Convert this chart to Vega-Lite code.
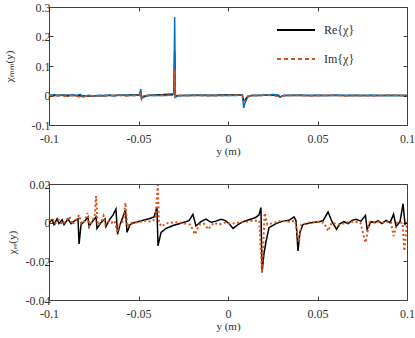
{
  "$schema": "https://vega.github.io/schema/vega-lite/v6.json",
  "padding": {"left": 2, "top": 0, "right": 5, "bottom": 0},
  "bounds": "flush",
  "spacing": 59,
  "config": {
    "font": "Liberation Serif",
    "view": {"stroke": "#404040", "strokeWidth": 1},
    "style": {
      "guide-label": {"font": "Liberation Serif", "fontSize": 12, "fill": "#303030"},
      "guide-title": {"font": "Liberation Serif", "fontSize": 11, "fill": "#303030", "fontWeight": "normal"}
    },
    "axis": {
      "grid": false, "domain": false, "tickSize": -4, "tickColor": "#404040",
      "labelFont": "Liberation Serif", "labelFontSize": 12, "labelColor": "#303030", "labelFlush": false,
      "titleFont": "Liberation Serif", "titleFontSize": 11, "titleFontWeight": "normal", "titleColor": "#303030",
      "labelExpr": "datum.value < 0 ? '-' + format(-datum.value, '~g') : format(datum.value, '~g')"
    },
    "axisX": {"labelPadding": 12, "titlePadding": 1},
    "axisY": {"labelPadding": 3},
    "legend": {
      "labelFont": "Liberation Serif", "labelFontSize": 12, "labelColor": "#303030"
    }
  },
  "datasets": {
    "topRe": [
      {"x": -0.1, "v": 0}, {"x": -0.09, "v": 0.001}, {"x": -0.08, "v": -0.002}, {"x": -0.0495, "v": 0.002},
      {"x": -0.0487, "v": 0.015}, {"x": -0.0483, "v": -0.008}, {"x": -0.045, "v": 0}, {"x": -0.0302, "v": 0.005},
      {"x": -0.0298, "v": 0.15}, {"x": -0.0294, "v": -0.004}, {"x": -0.028, "v": 0}, {"x": 0.008, "v": 0.002},
      {"x": 0.0088, "v": -0.02}, {"x": 0.0095, "v": -0.015}, {"x": 0.011, "v": -0.004}, {"x": 0.013, "v": 0},
      {"x": 0.028, "v": 0.001}, {"x": 0.029, "v": -0.005}, {"x": 0.031, "v": 0}, {"x": 0.1, "v": 0}
    ],
    "topBlue": [
      {"x": -0.1, "v": 0}, {"x": -0.097, "v": 0.003}, {"x": -0.095, "v": -0.002}, {"x": -0.092, "v": 0.002},
      {"x": -0.0895, "v": -0.003}, {"x": -0.087, "v": 0.003}, {"x": -0.085, "v": 0}, {"x": -0.0825, "v": 0.004},
      {"x": -0.081, "v": -0.005}, {"x": -0.078, "v": 0.001}, {"x": -0.075, "v": -0.002}, {"x": -0.072, "v": 0.001},
      {"x": -0.069, "v": 0}, {"x": -0.066, "v": 0.002}, {"x": -0.064, "v": -0.002}, {"x": -0.061, "v": 0.002},
      {"x": -0.058, "v": 0}, {"x": -0.055, "v": 0.001}, {"x": -0.052, "v": 0}, {"x": -0.0495, "v": 0.003},
      {"x": -0.0487, "v": 0.022}, {"x": -0.0483, "v": -0.012}, {"x": -0.0475, "v": -0.002}, {"x": -0.045, "v": 0},
      {"x": -0.04, "v": 0.001}, {"x": -0.035, "v": 0}, {"x": -0.031, "v": 0.002}, {"x": -0.0302, "v": 0.008},
      {"x": -0.0298, "v": 0.266}, {"x": -0.0294, "v": -0.006}, {"x": -0.0285, "v": -0.002}, {"x": -0.025, "v": 0},
      {"x": -0.02, "v": 0.001}, {"x": -0.015, "v": 0}, {"x": -0.01, "v": -0.001}, {"x": -0.005, "v": 0},
      {"x": 0, "v": 0.001}, {"x": 0.005, "v": 0}, {"x": 0.008, "v": 0.003}, {"x": 0.0088, "v": -0.042},
      {"x": 0.0095, "v": -0.025}, {"x": 0.011, "v": -0.005}, {"x": 0.013, "v": 0}, {"x": 0.018, "v": 0.001},
      {"x": 0.022, "v": 0.002}, {"x": 0.025, "v": 0.003}, {"x": 0.028, "v": 0.002}, {"x": 0.029, "v": -0.006},
      {"x": 0.031, "v": 0}, {"x": 0.035, "v": 0.001}, {"x": 0.04, "v": 0.002}, {"x": 0.045, "v": 0},
      {"x": 0.05, "v": 0.001}, {"x": 0.055, "v": 0}, {"x": 0.06, "v": 0.002}, {"x": 0.065, "v": 0},
      {"x": 0.07, "v": 0.001}, {"x": 0.075, "v": 0}, {"x": 0.08, "v": 0.001}, {"x": 0.085, "v": 0},
      {"x": 0.09, "v": 0.001}, {"x": 0.095, "v": 0}, {"x": 0.1, "v": 0}
    ],
    "topIm": [
      {"x": -0.1, "v": 0.001}, {"x": -0.097, "v": -0.002}, {"x": -0.094, "v": 0.001}, {"x": -0.091, "v": -0.003},
      {"x": -0.088, "v": 0.001}, {"x": -0.085, "v": -0.002}, {"x": -0.0815, "v": -0.006}, {"x": -0.078, "v": 0},
      {"x": -0.074, "v": -0.002}, {"x": -0.07, "v": 0.001}, {"x": -0.066, "v": -0.001}, {"x": -0.062, "v": 0.001},
      {"x": -0.058, "v": -0.002}, {"x": -0.054, "v": 0}, {"x": -0.0495, "v": 0}, {"x": -0.0487, "v": 0.008},
      {"x": -0.0483, "v": -0.01}, {"x": -0.047, "v": 0}, {"x": -0.04, "v": 0}, {"x": -0.031, "v": 0.002},
      {"x": -0.03, "v": 0.01}, {"x": -0.0298, "v": 0.089}, {"x": -0.0294, "v": -0.004}, {"x": -0.028, "v": 0},
      {"x": -0.02, "v": 0}, {"x": -0.01, "v": -0.001}, {"x": 0, "v": 0}, {"x": 0.008, "v": 0.002},
      {"x": 0.0088, "v": -0.022}, {"x": 0.0095, "v": -0.015}, {"x": 0.011, "v": -0.002}, {"x": 0.015, "v": 0},
      {"x": 0.02, "v": 0.001}, {"x": 0.025, "v": 0}, {"x": 0.029, "v": -0.004}, {"x": 0.032, "v": 0},
      {"x": 0.04, "v": 0.001}, {"x": 0.045, "v": -0.002}, {"x": 0.05, "v": 0}, {"x": 0.06, "v": 0.001},
      {"x": 0.065, "v": -0.002}, {"x": 0.07, "v": 0}, {"x": 0.08, "v": -0.001}, {"x": 0.09, "v": 0.001},
      {"x": 0.1, "v": 0}
    ],
    "botRe": [
      {"x": -0.1, "v": 0}, {"x": -0.0983, "v": 0.0015}, {"x": -0.0972, "v": -0.001}, {"x": -0.0955, "v": 0.002},
      {"x": -0.0944, "v": -0.0005}, {"x": -0.0927, "v": 0.0015}, {"x": -0.0916, "v": -0.001}, {"x": -0.0894, "v": 0.002},
      {"x": -0.0877, "v": -0.0005}, {"x": -0.0855, "v": 0.001}, {"x": -0.0838, "v": 0.002}, {"x": -0.0832, "v": -0.011},
      {"x": -0.0821, "v": -0.001}, {"x": -0.0799, "v": 0.001}, {"x": -0.0782, "v": 0.003}, {"x": -0.0777, "v": -0.002},
      {"x": -0.0754, "v": 0.001}, {"x": -0.0737, "v": 0.003}, {"x": -0.0732, "v": -0.003}, {"x": -0.071, "v": 0},
      {"x": -0.0687, "v": 0.002}, {"x": -0.0682, "v": -0.002}, {"x": -0.0659, "v": 0.002}, {"x": -0.0642, "v": 0.004},
      {"x": -0.0626, "v": 0.007}, {"x": -0.0617, "v": -0.006}, {"x": -0.0603, "v": -0.001}, {"x": -0.0587, "v": 0.003},
      {"x": -0.0573, "v": 0.0065}, {"x": -0.0564, "v": -0.005}, {"x": -0.0547, "v": -0.001}, {"x": -0.0525, "v": 0},
      {"x": -0.0503, "v": 0.0005}, {"x": -0.0475, "v": 0.0012}, {"x": -0.0441, "v": 0.002}, {"x": -0.0413, "v": 0.003},
      {"x": -0.0397, "v": 0.008}, {"x": -0.0391, "v": -0.012}, {"x": -0.0374, "v": -0.005}, {"x": -0.0346, "v": -0.003},
      {"x": -0.0307, "v": -0.0015}, {"x": -0.0263, "v": -0.0003}, {"x": -0.0218, "v": 0.001}, {"x": -0.0196, "v": 0.0043},
      {"x": -0.0179, "v": -0.0017}, {"x": -0.0151, "v": 0.0005}, {"x": -0.0123, "v": 0.0018}, {"x": -0.0095, "v": 0.0002},
      {"x": -0.0067, "v": 0.0008}, {"x": -0.0039, "v": 0.0018}, {"x": -0.0017, "v": 0.0012}, {"x": 0.0006, "v": -0.0005},
      {"x": 0.0028, "v": -0.003}, {"x": 0.0056, "v": -0.001}, {"x": 0.0084, "v": 0.0005}, {"x": 0.0117, "v": 0.0015},
      {"x": 0.0151, "v": 0.0025}, {"x": 0.0173, "v": 0.004}, {"x": 0.0184, "v": 0.0078}, {"x": 0.019, "v": -0.0258},
      {"x": 0.0201, "v": -0.016}, {"x": 0.0212, "v": -0.01}, {"x": 0.0229, "v": -0.0026}, {"x": 0.0268, "v": -0.0005},
      {"x": 0.0307, "v": 0.0008}, {"x": 0.0341, "v": 0.0012}, {"x": 0.0369, "v": 0.003}, {"x": 0.038, "v": 0.001},
      {"x": 0.0391, "v": -0.0146}, {"x": 0.0402, "v": -0.005}, {"x": 0.0419, "v": -0.001}, {"x": 0.0464, "v": 0},
      {"x": 0.0508, "v": 0.0005}, {"x": 0.0531, "v": 0.001}, {"x": 0.0559, "v": 0.0055}, {"x": 0.0581, "v": 0.0005},
      {"x": 0.0606, "v": -0.0034}, {"x": 0.0626, "v": -0.0005}, {"x": 0.0648, "v": 0.0005}, {"x": 0.0671, "v": -0.0005},
      {"x": 0.0693, "v": 0.0012}, {"x": 0.0715, "v": 0.0018}, {"x": 0.0743, "v": 0.0008}, {"x": 0.0768, "v": 0.0038},
      {"x": 0.0777, "v": -0.0034}, {"x": 0.0799, "v": 0.0005}, {"x": 0.0821, "v": 0}, {"x": 0.0838, "v": 0.001},
      {"x": 0.086, "v": -0.0005}, {"x": 0.0883, "v": 0.0012}, {"x": 0.0905, "v": 0}, {"x": 0.0925, "v": 0.0043},
      {"x": 0.0939, "v": -0.002}, {"x": 0.0961, "v": 0.0005}, {"x": 0.0978, "v": 0.0098}, {"x": 0.0989, "v": -0.0008},
      {"x": 0.1, "v": 0}
    ],
    "botIm": [
      {"x": -0.1, "v": 0.001}, {"x": -0.098, "v": 0.002}, {"x": -0.0965, "v": -0.0005}, {"x": -0.0945, "v": 0.0015},
      {"x": -0.0925, "v": -0.001}, {"x": -0.0905, "v": 0.001}, {"x": -0.0885, "v": 0.003}, {"x": -0.087, "v": -0.001},
      {"x": -0.085, "v": 0.001}, {"x": -0.0832, "v": 0.004}, {"x": -0.082, "v": -0.0005}, {"x": -0.08, "v": 0.001},
      {"x": -0.0785, "v": 0.005}, {"x": -0.0775, "v": -0.002}, {"x": -0.076, "v": 0.001}, {"x": -0.0745, "v": 0.003},
      {"x": -0.0737, "v": 0.0138}, {"x": -0.0728, "v": -0.001}, {"x": -0.071, "v": 0}, {"x": -0.0695, "v": 0.0035},
      {"x": -0.0685, "v": -0.001}, {"x": -0.0665, "v": 0.001}, {"x": -0.065, "v": 0}, {"x": -0.0635, "v": 0.001},
      {"x": -0.0617, "v": -0.005}, {"x": -0.0605, "v": -0.001}, {"x": -0.0585, "v": 0.001}, {"x": -0.0573, "v": 0.0103},
      {"x": -0.0562, "v": -0.002}, {"x": -0.0545, "v": 0}, {"x": -0.052, "v": 0}, {"x": -0.049, "v": 0.0005},
      {"x": -0.046, "v": 0.001}, {"x": -0.043, "v": 0.0005}, {"x": -0.0405, "v": 0.002}, {"x": -0.0392, "v": 0.0195},
      {"x": -0.0386, "v": 0}, {"x": -0.037, "v": -0.002}, {"x": -0.035, "v": -0.0005}, {"x": -0.032, "v": 0},
      {"x": -0.028, "v": 0.0003}, {"x": -0.024, "v": -0.0005}, {"x": -0.021, "v": -0.001}, {"x": -0.0185, "v": -0.006},
      {"x": -0.016, "v": -0.001}, {"x": -0.0135, "v": -0.0005}, {"x": -0.011, "v": -0.0034}, {"x": -0.008, "v": 0},
      {"x": -0.005, "v": -0.001}, {"x": -0.002, "v": 0}, {"x": 0.002, "v": -0.0005}, {"x": 0.006, "v": 0},
      {"x": 0.01, "v": 0.0005}, {"x": 0.014, "v": 0.001}, {"x": 0.0175, "v": 0.001}, {"x": 0.019, "v": -0.0258},
      {"x": 0.0205, "v": 0.005}, {"x": 0.022, "v": -0.001}, {"x": 0.026, "v": 0}, {"x": 0.03, "v": 0.001},
      {"x": 0.034, "v": 0.0005}, {"x": 0.0375, "v": 0.001}, {"x": 0.0395, "v": -0.01}, {"x": 0.041, "v": -0.001},
      {"x": 0.045, "v": 0}, {"x": 0.05, "v": 0.0005}, {"x": 0.0535, "v": 0}, {"x": 0.056, "v": -0.0043},
      {"x": 0.058, "v": 0}, {"x": 0.062, "v": -0.001}, {"x": 0.066, "v": 0}, {"x": 0.07, "v": 0.0005},
      {"x": 0.074, "v": 0}, {"x": 0.0768, "v": -0.0103}, {"x": 0.079, "v": 0}, {"x": 0.083, "v": 0.0005},
      {"x": 0.087, "v": 0}, {"x": 0.091, "v": 0.0005}, {"x": 0.0925, "v": -0.0069}, {"x": 0.0945, "v": 0},
      {"x": 0.0975, "v": 0}, {"x": 0.0985, "v": -0.0146}, {"x": 0.1, "v": 0}
    ]
  },
  "vconcat": [
    {
      "width": 358, "height": 118,
      "resolve": {"axis": {"x": "independent", "y": "independent"}},
      "layer": [
        {
          "data": {"name": "topRe"},
          "transform": [{"calculate": "'Re{χ}'", "as": "s"}],
          "mark": {"type": "line", "strokeWidth": 1.5, "clip": true},
          "encoding": {
            "x": {"field": "x", "type": "quantitative", "scale": {"domain": [-0.1, 0.1], "nice": false},
                  "axis": {"values": [-0.1, -0.05, 0, 0.05, 0.1], "title": "y (m)"}},
            "y": {"field": "v", "type": "quantitative", "scale": {"domain": [-0.1, 0.3], "nice": false},
                  "axis": {"values": [-0.1, 0, 0.1, 0.2, 0.3], "title": "χₘₘ(y)", "titlePadding": 17}},
            "color": {"field": "s", "type": "nominal",
                      "scale": {"domain": ["Re{χ}", "Im{χ}"], "range": ["#000000", "#D95319"]},
                      "legend": {"title": null, "orient": "none", "legendX": 227, "legendY": 3,
                                 "symbolType": "stroke", "symbolSize": 1444, "symbolStrokeWidth": 1.8,
                                 "rowPadding": 3, "labelOffset": 8, "padding": 0,
                                 "labelFont": "Liberation Serif", "labelFontSize": 12}},
            "strokeDash": {"field": "s", "type": "nominal",
                           "scale": {"domain": ["Re{χ}", "Im{χ}"], "range": [[1, 0], [4, 3]]},
                           "legend": {"title": null, "orient": "none", "legendX": 227, "legendY": 3,
                                 "symbolType": "stroke", "symbolSize": 1444, "symbolStrokeWidth": 1.8,
                                 "rowPadding": 3, "labelOffset": 8, "padding": 0,
                                 "labelFont": "Liberation Serif", "labelFontSize": 12}}
          }
        },
        {
          "data": {"name": "topBlue"},
          "mark": {"type": "line", "strokeWidth": 1.5, "color": "#0072BD", "clip": true},
          "encoding": {
            "x": {"field": "x", "type": "quantitative", "axis": {"orient": "top", "values": [-0.1, -0.05, 0, 0.05, 0.1], "labels": false, "title": null}},
            "y": {"field": "v", "type": "quantitative", "axis": {"orient": "right", "values": [-0.1, 0, 0.1, 0.2, 0.3], "labels": false, "title": null}}
          }
        },
        {
          "data": {"name": "topIm"},
          "transform": [{"calculate": "'Im{χ}'", "as": "s"}],
          "mark": {"type": "line", "strokeWidth": 1.5, "clip": true},
          "encoding": {
            "x": {"field": "x", "type": "quantitative", "axis": null},
            "y": {"field": "v", "type": "quantitative", "axis": null},
            "color": {"field": "s", "type": "nominal"},
            "strokeDash": {"field": "s", "type": "nominal"}
          }
        }
      ]
    },
    {
      "width": 358, "height": 116,
      "resolve": {"axis": {"x": "independent", "y": "independent"}},
      "layer": [
        {
          "data": {"name": "botRe"},
          "mark": {"type": "line", "strokeWidth": 1.5, "color": "#000000", "clip": true},
          "encoding": {
            "x": {"field": "x", "type": "quantitative", "scale": {"domain": [-0.1, 0.1], "nice": false},
                  "axis": {"values": [-0.1, -0.05, 0, 0.05, 0.1], "title": "y (m)"}},
            "y": {"field": "v", "type": "quantitative", "scale": {"domain": [-0.04, 0.02], "nice": false},
                  "axis": {"values": [-0.04, -0.02, 0, 0.02], "title": "χₑₑ(y)", "titlePadding": 8}}
          }
        },
        {
          "data": {"name": "botIm"},
          "mark": {"type": "line", "strokeWidth": 2, "color": "#D95319", "strokeDash": [2, 2.5], "clip": true},
          "encoding": {
            "x": {"field": "x", "type": "quantitative", "axis": {"orient": "top", "values": [-0.1, -0.05, 0, 0.05, 0.1], "labels": false, "title": null}},
            "y": {"field": "v", "type": "quantitative", "axis": {"orient": "right", "values": [-0.04, -0.02, 0, 0.02], "labels": false, "title": null}}
          }
        }
      ]
    }
  ]
}
